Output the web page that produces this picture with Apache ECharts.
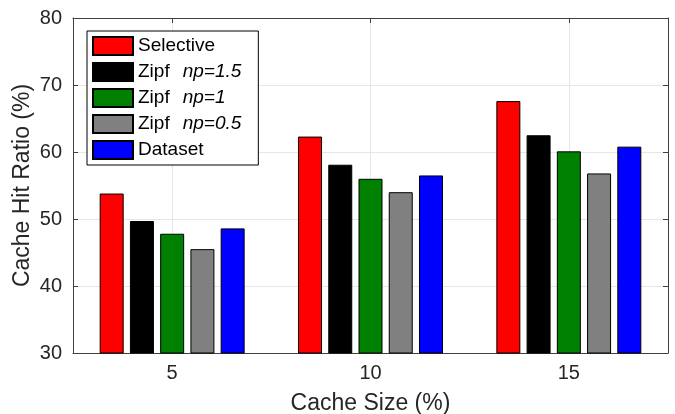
<!DOCTYPE html>
<html>
<head>
<meta charset="utf-8">
<script src="https://cdn.jsdelivr.net/npm/echarts@6/dist/echarts.min.js"></script>
<style>
  html, body { margin: 0; padding: 0; background: #fff; }
  #chart { width: 675px; height: 414px; }
</style>
</head>
<body>
<div id="chart"></div>
<script>
const cacheSizes = ['5', '10', '15']
const seriesNames = ['Selective', 'Zipf np=1.5', 'Zipf np=1', 'Zipf np=0.5', 'Dataset']
const selective = [53.8, 62.3, 67.6]
const zipf15 = [49.7, 58.1, 62.5]
const zipf1 = [47.8, 56.0, 60.1]
const zipf05 = [45.5, 54.0, 56.8]
const dataset = [48.6, 56.5, 60.8]
const yTicks = [30, 40, 50, 60, 70, 80]

const colors = ['#ff0000', '#000000', '#008000', '#808080', '#0000ff']
const values = [selective, zipf15, zipf1, zipf05, dataset]
const font = '"Liberation Sans", Arial, sans-serif'
const axisColor = '#404040'
const textColor = '#262626'

const chart = echarts.init(document.getElementById('chart'))

const seriesList = seriesNames.map((name, i) => ({
  name: name,
  type: 'bar',
  data: values[i],
  barWidth: 24,
  barGap: '26%',
  itemStyle: { color: colors[i], borderColor: '#000', borderWidth: 1 }
}))

chart.setOption({
  animation: false,
  grid: { left: 73, right: 7, top: 18, bottom: 61, outerBoundsMode: 'none' },
  legend: {
    orient: 'vertical',
    left: 87,
    top: 31,
    data: seriesNames,
    icon: 'rect',
    itemWidth: 40,
    itemHeight: 18,
    itemGap: 6,
    padding: [5, 17, 5, 5],
    borderColor: '#000',
    borderWidth: 1,
    backgroundColor: '#fff',
    formatter: function (name) {
      const parts = name.split(' ')
      if (parts.length === 1) return '{n|' + name + '}'
      return '{n|' + parts[0] + '}{i|' + parts[1] + '}'
    },
    textStyle: {
      rich: {
        n: { fontFamily: font, fontSize: 19, lineHeight: 18, color: '#000' },
        i: { fontFamily: font, fontSize: 19, lineHeight: 18, color: '#000', fontStyle: 'italic', padding: [0, 0, 0, 13] }
      }
    }
  },
  xAxis: [
    {
      type: 'category',
      data: cacheSizes,
      name: 'Cache Size (%)',
      nameLocation: 'middle',
      nameGap: 39,
      nameMoveOverlap: false,
      nameTextStyle: { fontFamily: font, fontSize: 23, color: textColor },
      axisLine: { lineStyle: { color: axisColor, width: 1 } },
      axisTick: { show: true, inside: true, alignWithLabel: true, length: 5, lineStyle: { color: axisColor } },
      axisLabel: { fontFamily: font, fontSize: 20, color: textColor, margin: 10 },
      splitLine: { show: true, alignWithLabel: true, lineStyle: { color: '#e6e6e6', width: 1 } }
    },
    {
      type: 'category',
      data: cacheSizes,
      position: 'top',
      axisLine: { lineStyle: { color: axisColor, width: 1 } },
      axisTick: { show: true, inside: true, alignWithLabel: true, length: 5, lineStyle: { color: axisColor } },
      axisLabel: { show: false },
      splitLine: { show: false }
    }
  ],
  yAxis: [
    {
      type: 'value',
      min: yTicks[0],
      max: yTicks[yTicks.length - 1],
      interval: 10,
      name: 'Cache Hit Ratio (%)',
      nameLocation: 'middle',
      nameGap: 39,
      nameMoveOverlap: false,
      nameTextStyle: { fontFamily: font, fontSize: 23, color: textColor },
      axisLine: { show: true, lineStyle: { color: axisColor, width: 1 } },
      axisTick: { show: true, inside: true, length: 5, lineStyle: { color: axisColor } },
      axisLabel: { fontFamily: font, fontSize: 20, color: textColor, margin: 11 },
      splitLine: { show: true, lineStyle: { color: '#e6e6e6', width: 1 } }
    },
    {
      type: 'value',
      min: yTicks[0],
      max: yTicks[yTicks.length - 1],
      interval: 10,
      position: 'right',
      axisLine: { show: true, lineStyle: { color: axisColor, width: 1 } },
      axisTick: { show: true, inside: true, length: 5, lineStyle: { color: axisColor } },
      axisLabel: { show: false },
      splitLine: { show: false }
    }
  ],
  series: seriesList
})
</script>
</body>
</html>
